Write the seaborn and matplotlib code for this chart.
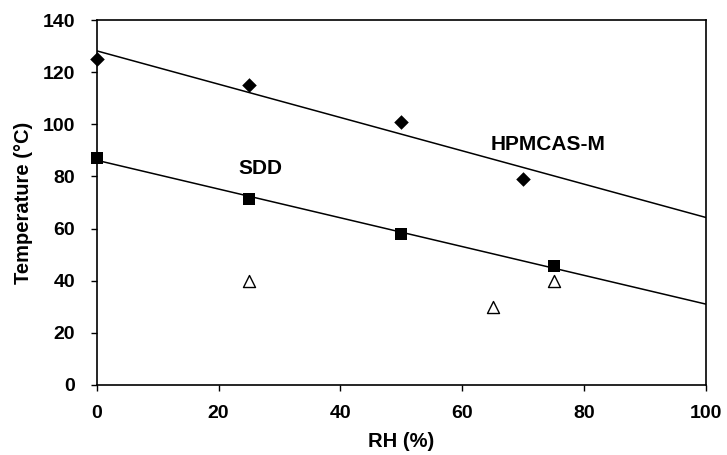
import matplotlib
matplotlib.use("Agg")
import matplotlib.pyplot as plt
import seaborn as sns
import numpy as np

hp_rh = [0, 25, 50, 70]
hp_temp = [125, 115, 101, 79]
sdd_rh = [0, 25, 50, 75]
sdd_temp = [87, 71.5, 58, 45.5]
tri_rh = [25, 65, 75]
tri_temp = [40, 30, 40]

sns.set_theme(style="ticks")
plt.rcParams['font.family'] = ['Liberation Sans', 'DejaVu Sans']
plt.rcParams['font.weight'] = 'bold'
for k in ['text.color', 'axes.labelcolor', 'xtick.color', 'ytick.color', 'axes.edgecolor']:
    plt.rcParams[k] = 'black'

fig, ax = plt.subplots(figsize=(7.27, 4.55), dpi=100)
fig.subplots_adjust(left=0.133, right=0.971, top=0.956, bottom=0.154)
ax.set_xlim(0, 100)
ax.set_ylim(0, 140)

sns.regplot(x=hp_rh, y=hp_temp, ax=ax, ci=None, truncate=False,
            marker="D", color="black",
            scatter_kws=dict(s=55, alpha=1, edgecolor="black", linewidths=0, clip_on=False, zorder=3),
            line_kws=dict(lw=1.1))
sns.regplot(x=sdd_rh, y=sdd_temp, ax=ax, ci=None, truncate=False,
            marker="s", color="black",
            scatter_kws=dict(s=85, alpha=1, edgecolor="black", linewidths=0, clip_on=False, zorder=3),
            line_kws=dict(lw=1.1))
sns.scatterplot(x=tri_rh, y=tri_temp, ax=ax, marker="^", s=75,
                facecolor="white", edgecolor="black", linewidth=1.0, zorder=3)

ax.set_xlim(0, 100)
ax.set_ylim(0, 140)
ax.set_xticks(np.arange(0, 101, 20))
ax.set_yticks(np.arange(0, 141, 20))
ax.tick_params(axis="both", direction="out", length=4.5, width=1, labelsize=14, colors="black")
ax.tick_params(axis="y", pad=11)
ax.tick_params(axis="x", pad=10)
for lab in ax.get_xticklabels() + ax.get_yticklabels():
    lab.set_fontweight("bold")
for sp in ax.spines.values():
    sp.set_visible(True)
    sp.set_color("black")
    sp.set_linewidth(1.2)

ax.set_xlabel("RH (%)", fontsize=14.5, fontweight="bold", labelpad=7)
ax.set_ylabel("Temperature (°C)", fontsize=14.5, fontweight="bold", labelpad=7)
ax.text(26.8, 83.0, "SDD", fontsize=15, fontweight="bold", ha="center", va="center")
ax.text(74.1, 92.4, "HPMCAS-M", fontsize=15, fontweight="bold", ha="center", va="center")

fig.savefig("out.png", dpi=100)
